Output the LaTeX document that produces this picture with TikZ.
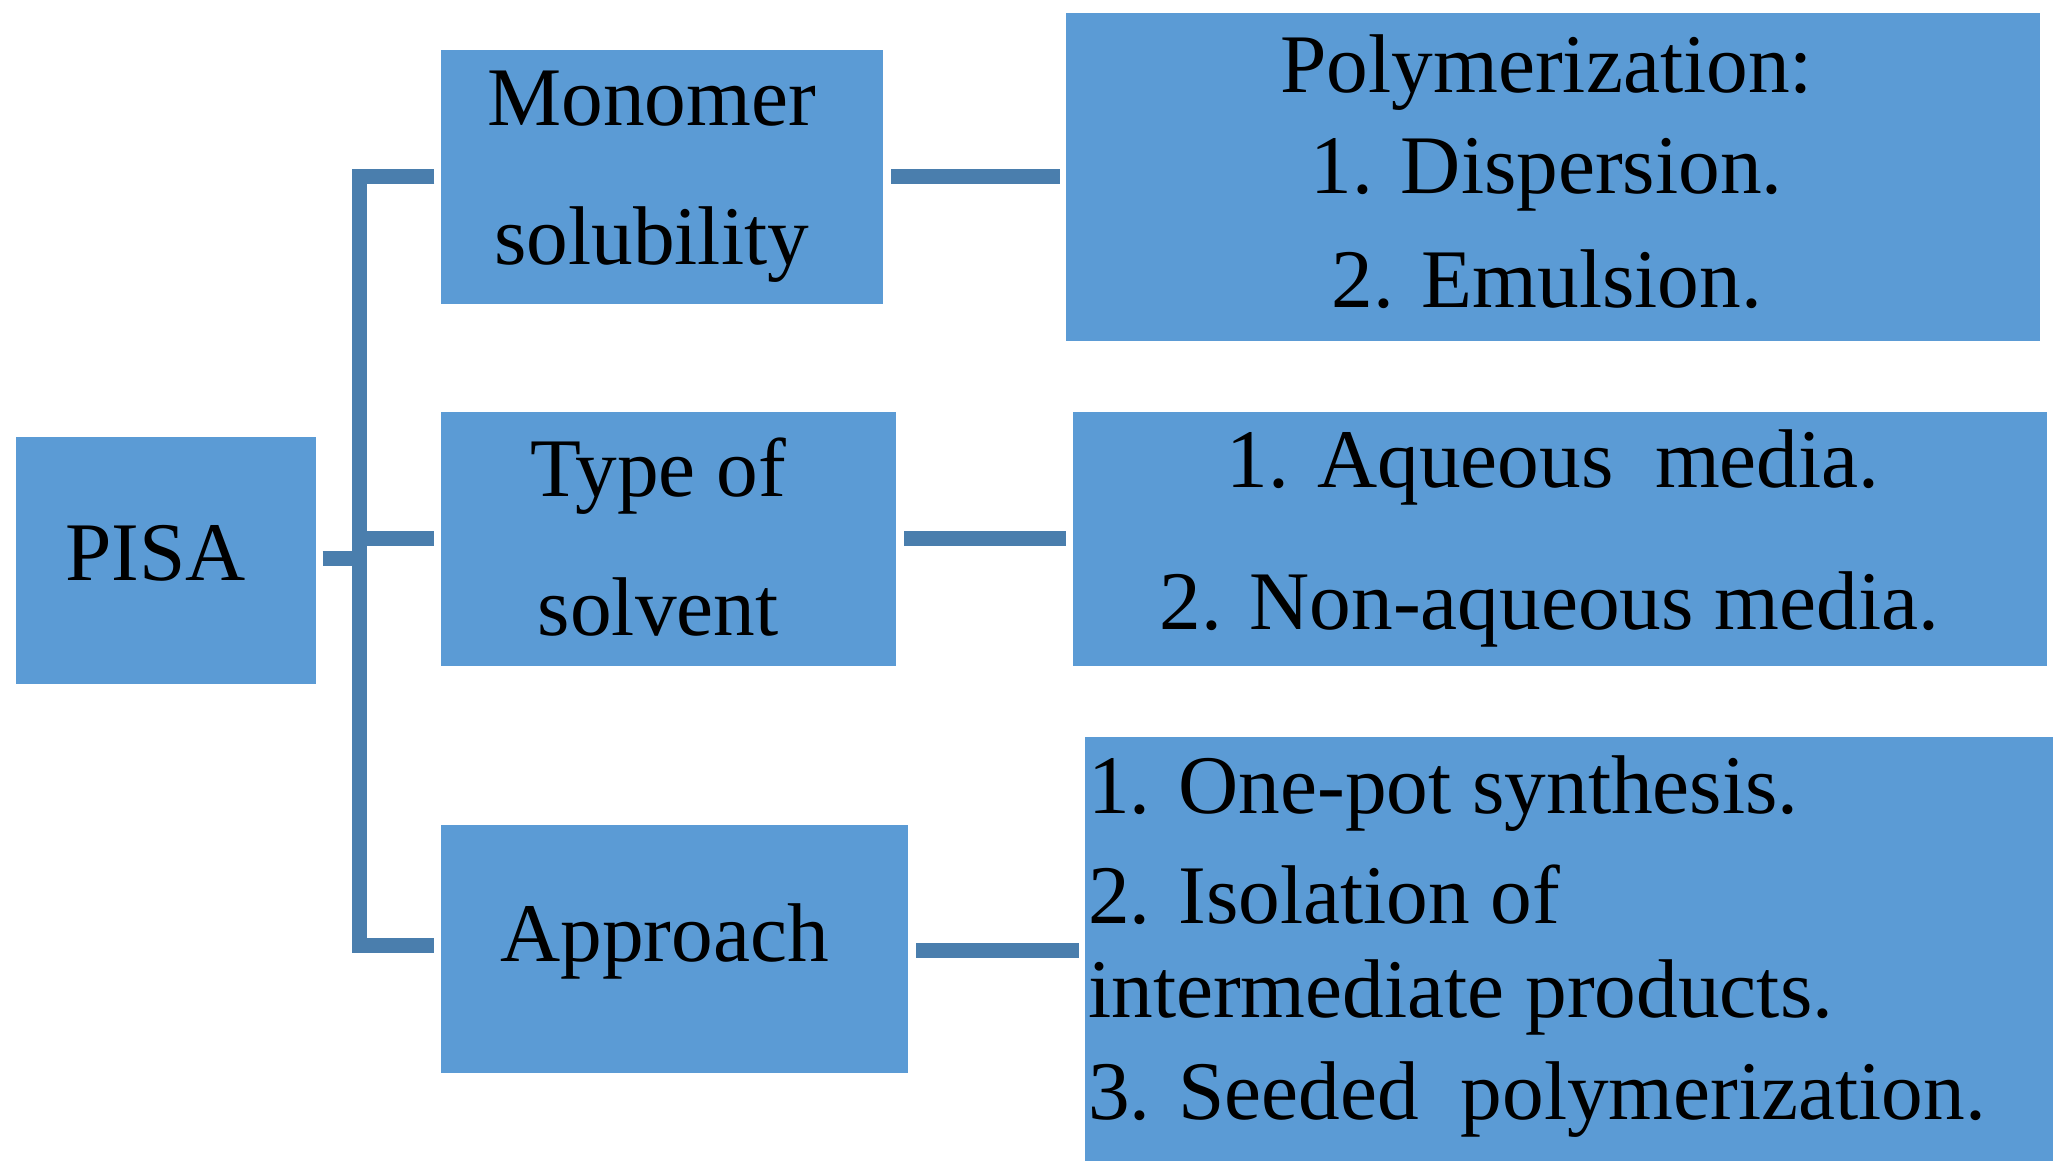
\documentclass[tikz,border=0pt]{standalone}
\usepackage{fontspec}
\setmainfont{Liberation Serif}
\begin{document}
\begin{tikzpicture}[x=0.01cm,y=-0.01cm,
  box/.style={fill=boxblue,draw=none},
  lbl/.style={font=\fontsize{18}{22}\selectfont,inner sep=0pt},
  conn/.style={draw=lineblue,line width=3.2pt}]
\definecolor{boxblue}{HTML}{5B9BD5}
\definecolor{lineblue}{HTML}{4A7EAD}
\useasboundingbox (0,0) rectangle (1568,891);
\fill[box] (12,332) rectangle (240,520) coordinate (pisaBR);
\fill[box] (335,38) rectangle (671,231);
\fill[box] (335,313) rectangle (681,506);
\fill[box] (335,627) rectangle (690,815);
\fill[box] (810,10) rectangle (1550,259);
\fill[box] (815,313) rectangle (1555,506);
\fill[box] (824,560) rectangle (1560,882);
\node[lbl] (pisa) at (118,420) {PISA};
\node[lbl,align=center] (mono) at (495,134) {Monomer\\[8pt]solubility};
\node[lbl,align=center] (type) at (500,408) {Type of\\[8pt]solvent};
\node[lbl] (appr) at (505,715) {Approach};
\node[lbl] (p1) at (1175,55) {Polymerization:};
\node[lbl] (p2) at (1175,133) {1. Dispersion.};
\node[lbl] (p3) at (1175,212) {2. Emulsion.};
\node[lbl] (a1) at (1180,355) {1. Aqueous\ \ media.};
\node[lbl] (a2) at (1177,463) {2. Non-aqueous\ media.};
\node[lbl,anchor=west] (o1) at (826,603) {1. One-pot synthesis.};
\node[lbl,anchor=west] (o2) at (826,680) {2. Isolation of};
\node[lbl,anchor=west] (o3) at (826,758) {intermediate products.};
\node[lbl,anchor=west] (o4) at (826,835) {3. Seeded\ \ polymerization.};
\coordinate (j0) at (245,424);
\coordinate (jv) at (273,424);
\coordinate (jt) at (273,134);
\coordinate (jb) at (273,718);
\draw[conn] (j0) -- (jv);
\draw[conn] (330,134) -- (jt) -- (jb) -- (330,718);
\draw[conn] (jv |- 0,409) -- (330,409);
\draw[conn] (677,134) -- (805,134);
\draw[conn] (687,409) -- (810,409);
\draw[conn] (696,722) -- (820,722);
\end{tikzpicture}
\end{document}
